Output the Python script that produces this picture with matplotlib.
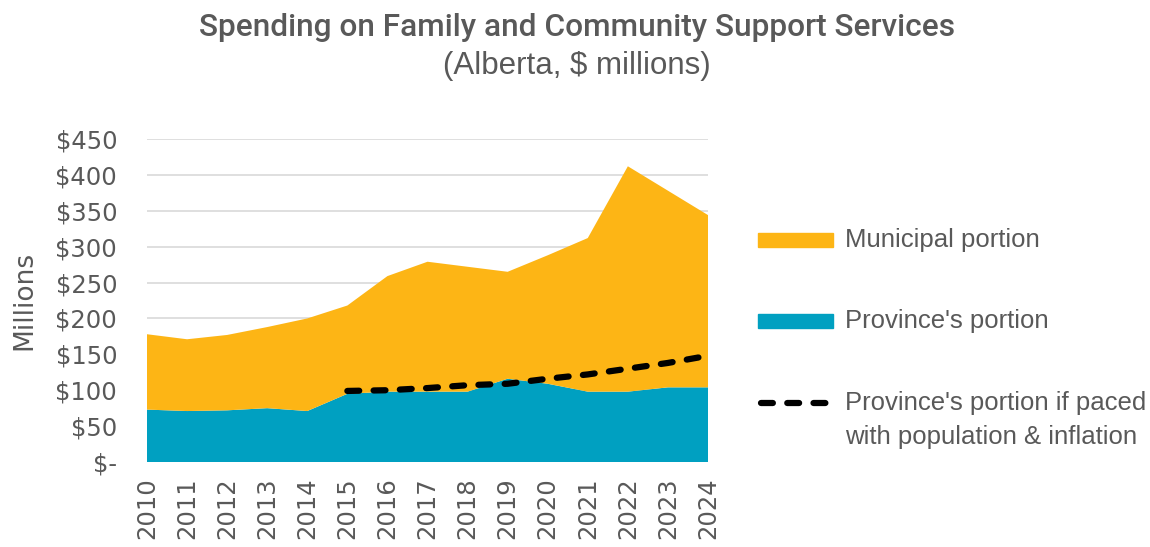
import matplotlib
matplotlib.use("Agg")
import matplotlib.pyplot as plt
import numpy as np
from matplotlib.patches import Rectangle
from matplotlib.lines import Line2D

years = list(range(2010, 2025))
province = [73, 71, 72, 75, 71, 95, 98, 98, 98, 116, 109, 98, 98, 104, 104]
municipal = [105, 100, 105, 113, 129, 123, 161, 181, 174, 149, 179, 214, 314, 274, 240]
paced_years = list(range(2015, 2025))
paced = [99, 100, 103, 107, 109, 116, 122, 130, 138, 148]
yticks = [0, 50, 100, 150, 200, 250, 300, 350, 400, 450]
ytick_labels = ["$-", "$50", "$100", "$150", "$200", "$250", "$300", "$350", "$400", "$450"]

YELLOW = "#FDB515"
BLUE = "#00A0C1"
GRAY = "#595959"
GRID = "#D9D9D9"
DASH = (1.9, 2.3)
LW = 4.5

plt.rcParams['font.family'] = ['Liberation Sans', 'DejaVu Sans']

fig = plt.figure(figsize=(11.5, 5.47), dpi=100)
ax = fig.add_axes([147/1150, 1-462/547, (708-147)/1150, (462-139)/547])

ax.stackplot(years, province, municipal, colors=[BLUE, YELLOW], linewidth=0, zorder=2)
ax.plot(paced_years, paced, color="black", lw=LW, dashes=DASH, dash_capstyle='round', zorder=3)

ax.set_xlim(2010, 2024)
ax.set_ylim(0, 450)
ax.set_yticks(yticks)
ax.set_yticklabels(ytick_labels, family=['DejaVu Sans'])
ax.set_xticks(years)
ax.set_xticklabels([str(y) for y in years], rotation=90, family=['DejaVu Sans'])
ax.grid(axis='y', color=GRID, lw=1.2, zorder=1)
ax.set_axisbelow(True)
for s in ax.spines.values():
    s.set_visible(False)
ax.tick_params(axis='both', length=0, colors=GRAY, labelsize=17.5)
ax.tick_params(axis='y', pad=21.5)
ax.tick_params(axis='x', pad=11)
for lab in ax.get_yticklabels():
    lab.set_horizontalalignment('right')
ax.set_ylabel("Millions", color=GRAY, fontsize=19, labelpad=13, family=['DejaVu Sans'])

fig.text(0.502, 0.950, "Spending on Family and Community Support Services",
         ha='center', va='center', fontsize=22.8, color=GRAY,
         family=['Roboto', 'DejaVu Sans'], fontweight='medium')
fig.text(0.502, 0.879, "(Alberta, $ millions)", ha='center', va='center',
         fontsize=22.5, color=GRAY)

# legend drawn manually
def fx(px):
    return px / 1150
def fy(py):
    return 1 - py / 547

fig.patches.append(Rectangle((fx(758), fy(247)), fx(833) - fx(758), 14/547,
                             transform=fig.transFigure, color=YELLOW))
fig.text(fx(845), fy(240), "Municipal portion", va='center', ha='left', fontsize=18.5, color=GRAY)
fig.patches.append(Rectangle((fx(758), fy(328)), fx(833) - fx(758), 14/547,
                             transform=fig.transFigure, color=BLUE))
fig.text(fx(845), fy(321), "Province's portion", va='center', ha='left', fontsize=18.5, color=GRAY)
fig.lines.append(Line2D([fx(761), fx(826)], [fy(403), fy(403)], transform=fig.transFigure,
                        color='black', lw=LW, dashes=DASH, dash_capstyle='round'))
fig.text(fx(845), fy(403), "Province's portion if paced", va='center', ha='left', fontsize=18.5, color=GRAY)
fig.text(fx(845), fy(437), "with population & inflation", va='center', ha='left', fontsize=18.5, color=GRAY)

fig.savefig("out.png", dpi=100)
